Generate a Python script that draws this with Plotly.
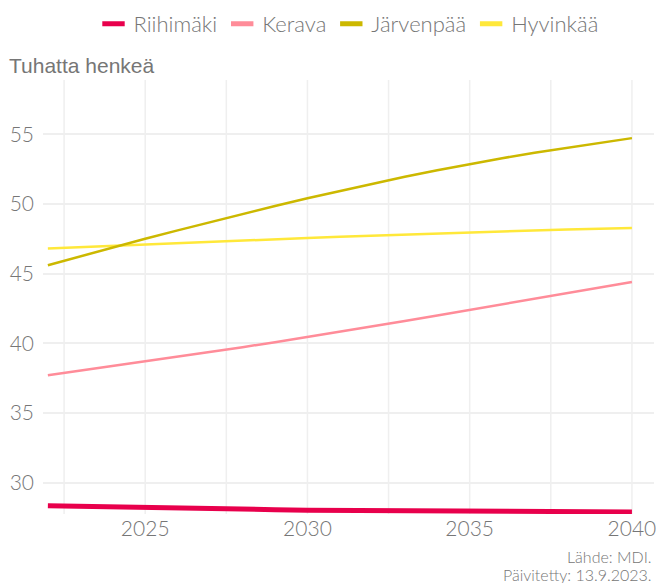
import plotly.graph_objects as go

years = list(range(2022, 2041))
riihimaki = [28.35, 28.32, 28.29, 28.26, 28.21, 28.16, 28.11, 28.06, 28.02, 28.0,
             27.99, 27.98, 27.97, 27.97, 27.96, 27.95, 27.94, 27.92, 27.9]
kerava = [37.7, 38.03, 38.36, 38.7, 39.03, 39.37, 39.72, 40.08, 40.45, 40.83,
          41.22, 41.6, 42.0, 42.4, 42.8, 43.2, 43.6, 44.0, 44.4]
jarvenpaa = [45.6, 46.25, 46.88, 47.5, 48.1, 48.7, 49.28, 49.85, 50.4, 50.93,
             51.45, 51.95, 52.42, 52.87, 53.28, 53.67, 54.03, 54.38, 54.72]
hyvinkaa = [46.8, 46.9, 47.0, 47.1, 47.2, 47.28, 47.37, 47.46, 47.55, 47.64,
            47.72, 47.81, 47.9, 47.98, 48.05, 48.11, 48.17, 48.22, 48.27]

names = ["Riihimäki", "Kerava", "Järvenpää", "Hyvinkää"]
colors = ["#E8004C", "#FF8C99", "#CCB800", "#FFE83A"]
widths = [5, 2.5, 2.5, 2.5]
series = [riihimaki, kerava, jarvenpaa, hyvinkaa]
source_lines = ["Lähde: MDI.", "Päivitetty: 13.9.2023."]

TXT = "#767676"
FONT = "Lato"

W, H = 656, 583
L, R, T, B = 43, 2, 80, 69
PW, PH = W - L - R, H - T - B

fig = go.Figure()
for name, col, w, vals in reversed(list(zip(names, colors, widths, series))):
    fig.add_trace(go.Scatter(x=years, y=vals, mode="lines", name=name,
                             line=dict(color=col, width=w), showlegend=False,
                             hoverinfo="x+y+name"))
for name, col in zip(names, colors):
    fig.add_trace(go.Scatter(x=[None], y=[None], mode="markers", name=name,
                             marker=dict(symbol="line-ew", size=16,
                                         line=dict(color=col, width=6))))

fig.update_layout(
    width=W, height=H,
    margin=dict(l=L, r=R, t=T, b=B, autoexpand=False),
    plot_bgcolor="white", paper_bgcolor="white",
    font=dict(family=FONT, color=TXT, size=20, weight=300),
    legend=dict(orientation="h", xref="paper", x=0.5, xanchor="center",
                yref="container", y=1 - 24 / H, yanchor="middle",
                font=dict(family=FONT, size=22, color=TXT, weight=300),
                traceorder="normal", itemwidth=30),
    xaxis=dict(range=[2021.85, 2040.68], tickvals=[2025, 2030, 2035, 2040],
               showgrid=False, zeroline=False, showline=False, ticks="",
               ticklabeloverflow="allow",
               tickfont=dict(family=FONT, size=21, color=TXT, weight=300)),
    yaxis=dict(range=[27.75, 58.89], tickvals=[30, 35, 40, 45, 50, 55],
               gridcolor="#efefef", gridwidth=1.5, zeroline=False, showline=False,
               ticks="", ticklabelstandoff=8,
               tickfont=dict(family=FONT, size=21, color=TXT, weight=300)),
)
for gx in [2022.5, 2025, 2027.5, 2030, 2032.5, 2035, 2037.5, 2040]:
    fig.add_shape(type="line", xref="x", yref="paper", x0=gx, x1=gx, y0=0, y1=1,
                  line=dict(color="#efefef", width=1.5), layer="below")

fig.add_annotation(text="Tuhatta henkeä", xref="paper", yref="paper",
                   x=(7 - L) / PW, y=(PH + T - 65) / PH, xanchor="left", yanchor="middle",
                   showarrow=False,
                   font=dict(family="Liberation Sans, Arial", size=21, color=TXT, weight=400))
for line_text, ypix in zip(source_lines, [556, 574]):
    fig.add_annotation(text=line_text, xref="paper", yref="paper",
                       x=1, y=(PH + T - ypix) / PH, xanchor="right", yanchor="middle",
                       showarrow=False,
                       font=dict(family=FONT, size=16, color=TXT, weight=300))

fig.write_html("out.html", config={"displayModeBar": False},
               post_script="document.body.style.margin='0';document.body.style.overflow='hidden';")
